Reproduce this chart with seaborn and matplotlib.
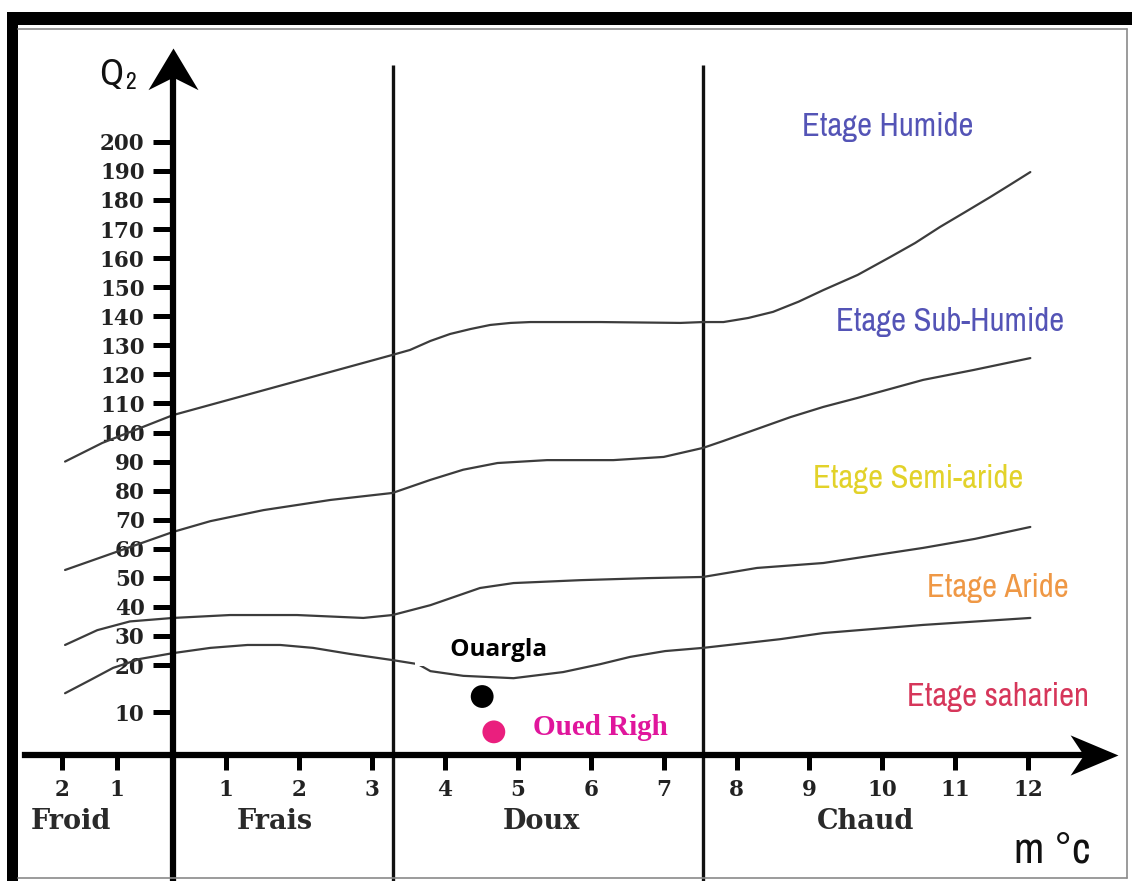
import os
import numpy as np
import matplotlib
matplotlib.use("Agg")
import matplotlib.pyplot as plt
from matplotlib import font_manager
from matplotlib.font_manager import FontProperties
from matplotlib.patches import Rectangle
from matplotlib.lines import Line2D
from matplotlib.path import Path
import seaborn as sns

# ---------------------------------------------------------------------------
# Emberger climagram: pluviothermic quotient Q2 against m (°C)
# ---------------------------------------------------------------------------
m_ticks = [-2, -1, 1, 2, 3, 4, 5, 6, 7, 8, 9, 10, 11, 12]
m_tick_labels = ["2", "1", "1", "2", "3", "4", "5", "6", "7", "8", "9", "10", "11", "12"]
q2_ticks = list(range(10, 201, 10))
q2_tick_labels = [str(v) for v in q2_ticks]

# thermal variants along the m axis and their limits
thermal_zones = ["Froid", "Frais", "Doux", "Chaud"]
zone_limits_m = [3.28, 7.54]

# limits between bioclimatic stages
humide_m = [-1.95, -1.27, 0.0, 3.28, 3.52, 3.80, 4.07, 4.35, 4.62, 4.90, 5.17, 6.13, 7.23,
            7.54, 7.82, 8.16, 8.50, 8.85, 9.19, 9.66, 10.11, 10.45, 10.79, 11.14, 11.48,
            11.75, 12.03]
humide_q2 = [90.0, 96.4, 106.0, 126.7, 128.4, 131.5, 133.9, 135.6, 137.0, 137.7, 138.0, 138.0,
             137.7, 138.0, 138.0, 139.4, 141.5, 145.0, 149.0, 154.2, 160.4, 165.2, 170.7,
             175.9, 181.0, 185.2, 189.6]

subhumide_m = [-1.95, -1.27, 0.0, 0.70, 1.51, 2.43, 3.28, 3.80, 4.25, 4.72, 5.40, 6.31, 7.00,
               7.54, 7.82, 8.28, 8.74, 9.19, 9.66, 10.11, 10.56, 11.25, 12.03]
subhumide_q2 = [52.7, 57.2, 65.8, 69.5, 73.3, 76.8, 79.2, 83.7, 87.2, 89.5, 90.5, 90.5, 91.6,
                94.7, 97.1, 101.2, 105.3, 108.8, 111.9, 115.0, 118.1, 121.5, 125.6]

semiaride_m = [-1.95, -1.36, -0.77, 0.0, 1.05, 1.97, 2.88, 3.28, 3.80, 4.48, 4.94, 5.86, 6.78,
               7.54, 8.28, 9.19, 10.56, 11.27, 12.03]
semiaride_q2 = [26.9, 32.0, 35.0, 36.2, 37.2, 37.2, 36.2, 37.2, 40.6, 46.5, 48.2, 49.2, 49.9,
                50.3, 53.4, 55.1, 60.3, 63.4, 67.5]

aride_m = [-1.95, -1.49, -1.07, -0.59, 0.0, 0.70, 1.29, 1.74, 2.19, 2.70, 3.28, 3.63, 3.80,
           4.25, 4.94, 5.62, 6.13, 6.54, 7.02, 7.54, 8.60, 9.19, 10.56, 12.03]
aride_q2 = [14.0, 16.8, 19.4, 22.1, 24.1, 25.9, 26.9, 26.9, 25.9, 23.8, 21.7, 20.3, 18.7,
            17.7, 17.2, 18.5, 20.3, 22.8, 24.8, 25.9, 28.9, 31.0, 33.8, 36.2]

boundaries = [
    (humide_m, humide_q2),
    (subhumide_m, subhumide_q2),
    (semiaride_m, semiaride_q2),
    (aride_m, aride_q2),
]

# bioclimatic stage names
stage_names = ["Etage Humide", "Etage Sub-Humide", "Etage Semi-aride", "Etage Aride", "Etage saharien"]

# stations
stations = ["Ouargla", "Oued Righ"]
station_m = [4.51, 4.67]
station_q2 = [13.3, 5.4]

# ---------------------------------------------------------------------------
# label placement and styling
# ---------------------------------------------------------------------------
stage_label_xy = [(10.08, 205.1), (10.93, 138.0), (10.49, 84.0), (11.58, 46.5), (11.58, 13.2)]
stage_colors = ["#5454b6", "#5454b6", "#e2d22a", "#ef9845", "#d6365a"]
zone_label_x = [-1.84, 1.66, 5.32, 9.77]
station_colors = ["#000000", "#ea1f7e"]


def narrow_font():
    """Pick a narrow sans-serif face if one is installed."""
    best, best_score = None, None
    for f in font_manager.fontManager.ttflist:
        tag = (f.name + " " + os.path.basename(f.fname)).lower()
        if "mono" in tag or "serif" in tag.replace("sans-serif", ""):
            continue
        if f.style != "normal":
            continue
        if "narrow" in tag:
            score = 0
        elif "semicondensed" in tag or "semi condensed" in tag:
            score = 2
        elif "extracondensed" in tag or "extra condensed" in tag:
            score = 3
        elif "condensed" in tag:
            score = 1
        else:
            continue
        w = f.weight if isinstance(f.weight, (int, float)) else 400
        score = score * 1000 + abs(w - 450)
        if best_score is None or score < best_score:
            best, best_score = f, score
    if best is not None:
        return FontProperties(fname=best.fname), 1.0
    return FontProperties(family="Roboto"), 0.9


def piecewise(knots_in, knots_out):
    """Piecewise-linear map with linear extension past the end knots."""
    ki = np.asarray(knots_in, float)
    ko = np.asarray(knots_out, float)
    s0 = (ko[1] - ko[0]) / (ki[1] - ki[0])
    s1 = (ko[-1] - ko[-2]) / (ki[-1] - ki[-2])

    def f(v):
        v = np.asarray(v, float)
        out = np.interp(v, ki, ko)
        out = np.where(v < ki[0], ko[0] + (v - ki[0]) * s0, out)
        out = np.where(v > ki[-1], ko[-1] + (v - ki[-1]) * s1, out)
        return out

    return f


# the drawn axes are not uniformly graduated near the origin
x_knots, x_pos = [-2, -1, 0, 1, 12], [-1.52, -0.77, 0.0, 0.73, 11.73]
y_knots, y_pos = [0, 10, 20, 200], [-11.0, 3.83, 20.0, 200.0]

sns.set_theme(style="white")
plt.rcParams["font.family"] = ["DejaVu Sans"]
nfont, nscale = narrow_font()


def nprops(size):
    fp = nfont.copy()
    fp.set_size(size * nscale)
    return fp


fig = plt.figure(figsize=(11.32, 8.81), dpi=100)
ax = fig.add_axes([0, 0, 1, 1])
ax.set_facecolor("white")
ax.set_xscale("function", functions=(piecewise(x_knots, x_pos), piecewise(x_pos, x_knots)))
ax.set_yscale("function", functions=(piecewise(y_knots, y_pos), piecewise(y_pos, y_knots)))
ax.set_xlim(-3.14, 13.425)
ax.set_ylim(-29.2, 248.8)

# axes drawn as spines through the origin
for side in ["top", "right"]:
    ax.spines[side].set_visible(False)
ax.spines["left"].set_position(("data", 0))
ax.spines["bottom"].set_position(("data", 0))
for side in ["left", "bottom"]:
    ax.spines[side].set_linewidth(4.5)
    ax.spines[side].set_color("black")
ax.spines["left"].set_bounds(-29.2, 224)
ax.spines["bottom"].set_bounds(-2.68, 12.9)

ax.set_xticks(m_ticks)
ax.set_xticklabels(m_tick_labels, family="DejaVu Serif", fontweight="bold", fontsize=15.5, color="#222222")
ax.set_yticks(q2_ticks)
ax.set_yticklabels(q2_tick_labels, family="DejaVu Serif", fontweight="bold", fontsize=15.5, color="#222222")
ax.tick_params(axis="y", direction="out", length=14.5, width=3.6, pad=6, color="black", left=True)
ax.tick_params(axis="x", direction="out", length=11, width=3.6, pad=6, color="black", bottom=True)
ax.minorticks_off()
ax.grid(False)

# arrow heads on both axes
up_head = Path([(0, 0), (-0.6, -1), (0, -0.7), (0.6, -1), (0, 0)],
               [Path.MOVETO, Path.LINETO, Path.LINETO, Path.LINETO, Path.CLOSEPOLY])
right_head = Path([(0, 0), (-1, 0.42), (-0.72, 0), (-1, -0.42), (0, 0)],
                  [Path.MOVETO, Path.LINETO, Path.LINETO, Path.LINETO, Path.CLOSEPOLY])
ax.plot([0], [232.3], marker=up_head, markersize=60, color="black", markeredgewidth=0,
        clip_on=False, zorder=6)
ax.plot([13.23], [0], marker=right_head, markersize=69, color="black", markeredgewidth=0,
        clip_on=False, zorder=6)

# thermal variant limits
ax.vlines(zone_limits_m, ymin=-29.2, ymax=226.5, colors="#111111", linewidth=2.4, zorder=2)

# bioclimatic stage limits
for bm, bq in boundaries:
    sns.lineplot(x=bm, y=bq, sort=False, ax=ax, color="#3c3c3c", linewidth=1.6,
                 estimator=None, zorder=2)

# stations
sns.scatterplot(x=station_m, y=station_q2, hue=stations, palette=station_colors,
                s=270, edgecolor="none", legend=False, ax=ax, zorder=5)

# stage names
for name, (sx, sy), col in zip(stage_names, stage_label_xy, stage_colors):
    ax.text(sx, sy, name, color=col, fontproperties=nprops(23.5),
            ha="center", va="center", zorder=4)

# station names
ax.text(5.40, 25.3, "     " + stations[0], color="black", fontsize=17.5, family="Open Sans",
        fontweight="bold", ha="right", va="center", zorder=4,
        bbox=dict(facecolor="white", edgecolor="none", pad=3))
ax.text(6.13, 6.5, stations[1], color="#e0169c", fontsize=21, family="Liberation Serif",
        fontweight="bold", ha="center", va="center", zorder=4)

# thermal variant names under the m axis
xtr = ax.get_xaxis_transform()
for name, zx in zip(thermal_zones, zone_label_x):
    ax.text(zx, 0.067, name, transform=xtr, family="DejaVu Serif", fontweight="bold",
            fontsize=19.5, color="#2a2a2a", ha="center", va="center")

# axis titles
ax.text(12.33, 0.035, "m °c", transform=xtr, fontproperties=nprops(32),
        color="#111111", ha="center", va="center")
ax.text(-1.11, 223, "Q", fontproperties=nprops(27), color="#111111", ha="center", va="center")
ax.text(-0.76, 220.3, "2", fontproperties=nprops(17), color="#111111", ha="center", va="center")

# picture frame
W, H = 1132.0, 881.0
fig.add_artist(Rectangle((7 / W, 1 - 25 / H), (W - 7) / W, 13 / H, transform=fig.transFigure,
                         facecolor="black", edgecolor="none", zorder=10))
fig.add_artist(Rectangle((7 / W, 0), 11 / W, 1 - 12 / H, transform=fig.transFigure,
                         facecolor="black", edgecolor="none", zorder=10))
frame_style = dict(transform=fig.transFigure, color="#8a8a8a", linewidth=1.2, zorder=10)
fig.add_artist(Line2D([18 / W, 1127 / W], [1 - 29 / H, 1 - 29 / H], **frame_style))
fig.add_artist(Line2D([1127 / W, 1127 / W], [1 - 29 / H, 1 - 878 / H], **frame_style))
fig.add_artist(Line2D([18 / W, 1127 / W], [1 - 878 / H, 1 - 878 / H], **frame_style))

fig.savefig("out.png", dpi=100, facecolor="white")
